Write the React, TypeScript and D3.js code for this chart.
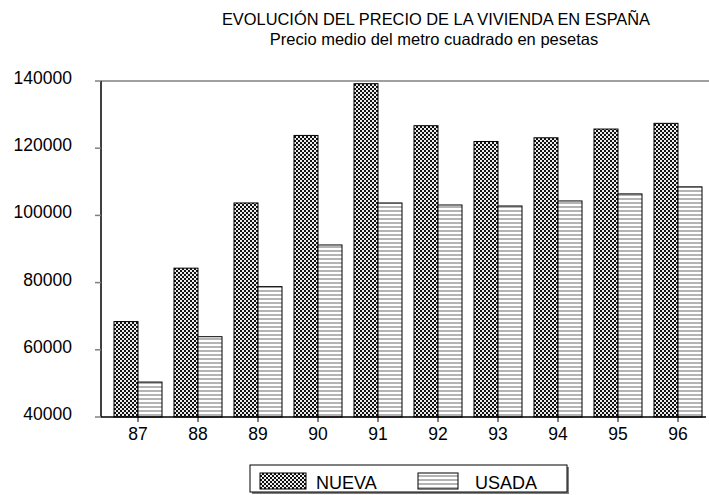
import React from "react";
import * as d3 from "d3";

const years = ["87", "88", "89", "90", "91", "92", "93", "94", "95", "96"];
const nueva = [68400, 84300, 103700, 123800, 139200, 126700, 122000, 123100, 125700, 127400];
const usada = [50400, 63900, 78800, 91200, 103700, 103100, 102800, 104300, 106400, 108500];
const yTicks = [40000, 60000, 80000, 100000, 120000, 140000];
const seriesNames = ["NUEVA", "USADA"];

const W = 709,
  H = 495;
const plot = { left: 101, top: 81, bottom: 417, right: 709 };
const font = "'Liberation Sans', Arial, sans-serif";

export default function App() {
  const x = d3.scaleBand<string>().domain(years).range([108, 708]).paddingInner(0).paddingOuter(0);
  // two bars of 24px, 6px margin each side of the 60px group
  const inner = d3
    .scaleBand<string>()
    .domain(seriesNames)
    .range([0, x.bandwidth()])
    .paddingOuter(0.25)
    .paddingInner(0);
  const y = d3.scaleLinear().domain([40000, 140000]).range([plot.bottom, plot.top]);

  const fills = ["url(#nueva)", "url(#usada)"];
  const data = [nueva, usada];

  return (
    <svg
      width={W}
      height={H}
      style={{ position: "absolute", left: 0, top: 0, background: "#fff" }}
      fontFamily={font}
    >
      <defs>
        <pattern id="nueva" width={4} height={4} patternUnits="userSpaceOnUse">
          <rect width={4} height={4} fill="#111" />
          <rect x={0} y={0} width={2} height={2} fill="#eee" />
          <rect x={2} y={2} width={2} height={2} fill="#eee" />
        </pattern>
        <pattern id="usada" width={4} height={4} patternUnits="userSpaceOnUse">
          <rect width={4} height={4} fill="#fff" />
          <rect x={0} y={2} width={4} height={2} fill="#b4b4b4" />
        </pattern>
      </defs>

      {/* titles */}
      <text x={436} y={25} textAnchor="middle" fontSize={16.4}>
        EVOLUCIÓN DEL PRECIO DE LA VIVIENDA EN ESPAÑA
      </text>
      <text x={434} y={45} textAnchor="middle" fontSize={16.5}>
        Precio medio del metro cuadrado en pesetas
      </text>

      {/* frame */}
      <line x1={plot.left} x2={plot.right} y1={plot.top} y2={plot.top} stroke="#808080" strokeWidth={1.5} />

      {/* bars */}
      {data.map((vals, si) =>
        vals.map((v, i) => (
          <rect
            key={si + "-" + i}
            x={(x(years[i]) as number) + (inner(seriesNames[si]) as number)}
            y={y(v)}
            width={inner.bandwidth()}
            height={plot.bottom - y(v)}
            fill={fills[si]}
            stroke="#000"
            strokeWidth={1}
          />
        ))
      )}

      {/* y axis */}
      <line x1={plot.left} x2={plot.left} y1={plot.top} y2={plot.bottom} stroke="#000" strokeWidth={1.5} />
      {yTicks.map((t) => (
        <g key={t}>
          <line x1={plot.left - 6} x2={plot.left} y1={y(t)} y2={y(t)} stroke="#808080" strokeWidth={1.5} />
          <text x={72} y={y(t) + 3} textAnchor="end" fontSize={17.5}>
            {t}
          </text>
        </g>
      ))}

      {/* x axis */}
      <line x1={plot.left} x2={706} y1={plot.bottom} y2={plot.bottom} stroke="#000" strokeWidth={1.5} />
      {years.map((yr) => {
        const cx = (x(yr) as number) + x.bandwidth() / 2;
        return (
          <g key={yr}>
            <line x1={cx} x2={cx} y1={plot.bottom} y2={plot.bottom + 5} stroke="#000" strokeWidth={1} />
            <text x={cx} y={440} textAnchor="middle" fontSize={17.5}>
              {yr}
            </text>
          </g>
        );
      })}

      {/* legend */}
      <rect x={252} y={467} width={317} height={27} fill="#808080" />
      <rect x={250} y={465} width={317} height={27} fill="#fff" stroke="#000" strokeWidth={1} />
      {seriesNames.map((n, i) => (
        <g key={n} transform={`translate(${i === 0 ? 260 : 418},473)`}>
          <rect width={i === 0 ? 46 : 40} height={16} fill={fills[i]} stroke="#000" strokeWidth={1} />
          <text x={i === 0 ? 56 : 57} y={16} fontSize={18}>
            {n}
          </text>
        </g>
      ))}
    </svg>
  );
}
